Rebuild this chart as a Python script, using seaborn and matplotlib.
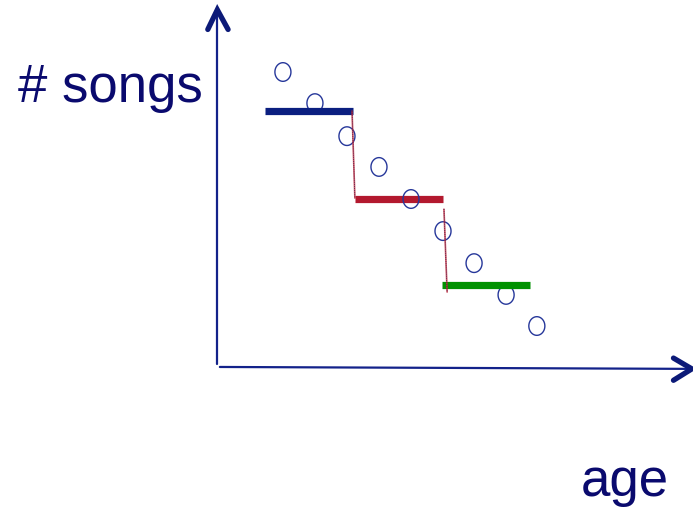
import numpy as np
import pandas as pd
import matplotlib
matplotlib.use("Agg")
import matplotlib.pyplot as plt
from matplotlib.path import Path
import seaborn as sns

# Observed song counts by age
ages = [2.08, 3.09, 4.10, 5.11, 6.12, 7.13, 8.11, 9.12, 10.09]
songs = [9.26, 8.28, 7.24, 6.27, 5.26, 4.25, 3.24, 2.24, 1.26]

# Piecewise-constant (step) fit: one level per age bin
step_start = [1.51, 4.35, 7.10]
step_end = [4.29, 7.13, 9.87]
step_level = [8.03, 5.27, 2.55]
step_colors = ["#0b1f80", "#b3192e", "#009100"]
step_z = [4, 2, 4]

# Jumps between consecutive levels (age_top, age_bottom, songs_top, songs_bottom)
jump_age_top = [4.26, 7.16]
jump_age_bot = [4.35, 7.26]
jump_songs_top = [8.03, 4.94]
jump_songs_bot = [5.29, 2.33]

df = pd.DataFrame({"age": ages, "songs": songs})

sns.set_theme(style="white")
plt.rcParams["font.family"] = ["Liberation Sans", "DejaVu Sans"]

fig = plt.figure(figsize=(6.93, 5.12), dpi=100)
ax = fig.add_axes([0, 0, 1, 1])
ax.set_xlim(-6.845, 15.016)
ax.set_ylim(-4.598, 11.528)
ax.axis("off")

# Hand-drawn style axes with open chevron heads
axis_col = "#13228a"
head_col = "#0c1a78"
ax.plot([0.01, 0.01], [0.06, 11.05], color=axis_col, lw=1.6, zorder=1)
ax.plot([0.09, 14.9], [-0.03, -0.09], color=axis_col, lw=1.6, zorder=1)
ax.plot([-0.29, 0.01, 0.35], [10.6, 11.22, 10.6], color=head_col, lw=3.8,
        solid_capstyle="round", solid_joinstyle="miter", zorder=1)
ax.plot([14.4, 14.98, 14.4], [0.25, -0.09, -0.45], color=head_col, lw=3.8,
        solid_capstyle="round", solid_joinstyle="miter", zorder=1)

# Slightly tall elliptical open markers
t = np.linspace(0, 2 * np.pi, 80)
ell = Path(np.column_stack([0.86 * np.cos(t), np.sin(t)]), closed=True)
sns.scatterplot(data=df, x="age", y="songs", ax=ax, marker=ell, s=180,
                facecolors="none", edgecolor="#26379a", linewidth=1.0,
                zorder=3, legend=False)

# Step levels
for x0, x1, y, c, z in zip(step_start, step_end, step_level, step_colors, step_z):
    ax.plot([x0, x1], [y, y], color=c, lw=5.2, solid_capstyle="butt", zorder=z)

# Jumps between levels
for xa, xb, ya, yb in zip(jump_age_top, jump_age_bot, jump_songs_top, jump_songs_bot):
    ax.plot([xa, xb], [ya, yb], color="#c0283a", lw=1.2, alpha=0.8, zorder=5)
    ax.plot([xa, xb], [ya, yb], color="#3a1a50", lw=0.6, ls=(0, (1, 1.5)), zorder=6)

text_col = "#0a0a6e"
fig.text(18 / 693, 1 - 102 / 512, "# songs", fontsize=38, color=text_col,
         ha="left", va="baseline")
fig.text(581 / 693, 1 - 496 / 512, "age", fontsize=38, color=text_col,
         ha="left", va="baseline")

fig.savefig("out.png", dpi=100)
